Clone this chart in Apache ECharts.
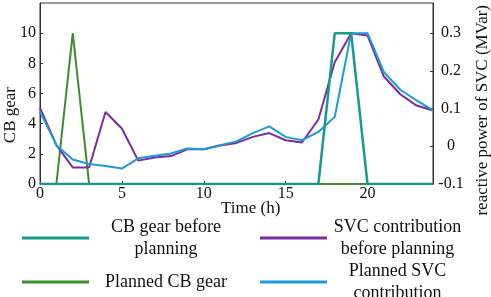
<!DOCTYPE html>
<html><head><meta charset="utf-8">
<script src="https://cdn.jsdelivr.net/npm/echarts@6/dist/echarts.min.js"></script>
<style>html,body{margin:0;padding:0;background:#fff}#c{width:491px;height:297px}</style>
</head><body><div id="c"></div>
<script>
var hours = [0,1,2,3,4,5,6,7,8,9,10,11,12,13,14,15,16,17,18,19,20,21,22,23,24];
var cbBefore = [0,0,0,0,0,0,0,0,0,0,0,0,0,0,0,0,0,0,10,10,0,0,0,0,0];
var cbPlanned = [0,0,10,0,0,0,0,0,0,0,0,0,0,0,0,0,0,0,0,0,0,0,0,0,0];
var svcBefore = [0.102,0.003,-0.056,-0.056,0.091,0.047,-0.038,-0.030,-0.026,-0.008,-0.008,0.002,0.009,0.025,0.035,0.016,0.010,0.071,0.223,0.300,0.294,0.185,0.138,0.108,0.095];
var svcPlanned = [0.092,0.003,-0.035,-0.047,-0.052,-0.059,-0.032,-0.025,-0.019,-0.006,-0.008,0.003,0.013,0.035,0.053,0.025,0.016,0.038,0.078,0.300,0.300,0.197,0.150,0.122,0.095];
var names = ['CB gear before planning','SVC contribution before planning','Planned CB gear','Planned SVC contribution'];
var labels = ['CB gear before\nplanning','SVC contribution\nbefore planning','Planned CB gear','Planned SVC\ncontribution'];
var colors = {teal:'#17998e', purple:'#7b2c9e', green:'#3d8c2f', blue:'#1c9bd6'};

function pairs(v){ return hours.map(function(h,i){ return [h, v[i]]; }); }
var FONT = 'Liberation Serif';
var axisCol = '#333';

function mkLegend(i, left, top, w){
  return {
    data:[names[i]], left:left, top:top, itemWidth:67, itemHeight:3, itemGap:0, icon:'rect',
    formatter: function(){ return '{a|' + labels[i].split('\n').join('}\n{a|') + '}'; },
    textStyle:{ fontFamily:FONT, fontSize:18, color:'#111',
      rich:{ a:{ width:w, align:'center', fontFamily:FONT, fontSize:18, lineHeight:22, color:'#111'} } },
    selectedMode:false
  };
}

var chart = echarts.init(document.getElementById('c'), null, {renderer:'canvas'});
chart.setOption({
  animation:false,
  backgroundColor:'#fff',
  grid:{ left:40, right:58, top:3, bottom:113, show:true, borderColor:axisCol, borderWidth:1,
         containLabel:false, outerBoundsMode:'none' },
  legend:[
    mkLegend(0, 17, 213, 144),
    mkLegend(1, 255, 213, 131),
    mkLegend(2, 17, 268, 144),
    mkLegend(3, 255, 257, 131)
  ],
  xAxis:{ type:'value', min:0, max:24, interval:5,
    axisLine:{ lineStyle:{ color:axisCol } },
    axisTick:{ inside:true, length:3, lineStyle:{color:axisCol} },
    axisLabel:{ fontFamily:FONT, fontSize:16, color:'#111', margin:2, showMaxLabel:false },
    splitLine:{ show:false } },
  yAxis:[
    { type:'value', min:0, max:12, interval:2,
      axisLine:{ show:true, lineStyle:{ color:axisCol } },
      axisTick:{ show:true, inside:true, length:3, lineStyle:{color:axisCol} },
      axisLabel:{ fontFamily:FONT, fontSize:16, color:'#111', margin:4, showMaxLabel:false },
      splitLine:{ show:false } },
    { type:'value', min:-0.1, max:0.38, interval:0.1, position:'right',
      axisLine:{ show:true, lineStyle:{ color:axisCol } },
      axisTick:{ show:true, inside:true, length:3, lineStyle:{color:axisCol} },
      axisLabel:{ fontFamily:FONT, fontSize:16, color:'#111', margin:18, align:'center', showMaxLabel:false,
        formatter:function(v){ return String(Math.round(v*10)/10); } },
      splitLine:{ show:false } }
  ],
  graphic:[
    { type:'text', left:474, top:5, rotation:Math.PI/2, z:10,
      style:{ text:'reactive power of SVC (MVar)', font:'17px "Liberation Serif"', fill:'#111' } },
    { type:'text', left:2, top:87, rotation:Math.PI/2, z:10,
      style:{ text:'CB gear', font:'17px "Liberation Serif"', fill:'#111' } },
    { type:'text', left:221, top:200, z:10,
      style:{ text:'Time (h)', font:'17px "Liberation Serif"', fill:'#111' } }
  ],
  series:[
    { name:names[2], type:'line', data:pairs(cbPlanned), yAxisIndex:0, symbol:'none', z:2,
      lineStyle:{ color:colors.green, width:2 }, itemStyle:{color:colors.green} },
    { name:names[1], type:'line', data:pairs(svcBefore), yAxisIndex:1, symbol:'none', z:3,
      lineStyle:{ color:colors.purple, width:2 }, itemStyle:{color:colors.purple} },
    { name:names[3], type:'line', data:pairs(svcPlanned), yAxisIndex:1, symbol:'none', z:4,
      lineStyle:{ color:colors.blue, width:2 }, itemStyle:{color:colors.blue} },
    { name:names[0], type:'line', data:pairs(cbBefore), yAxisIndex:0, symbol:'none', z:5,
      lineStyle:{ color:colors.teal, width:2.5 }, itemStyle:{color:colors.teal} }
  ]
});
</script></body></html>
